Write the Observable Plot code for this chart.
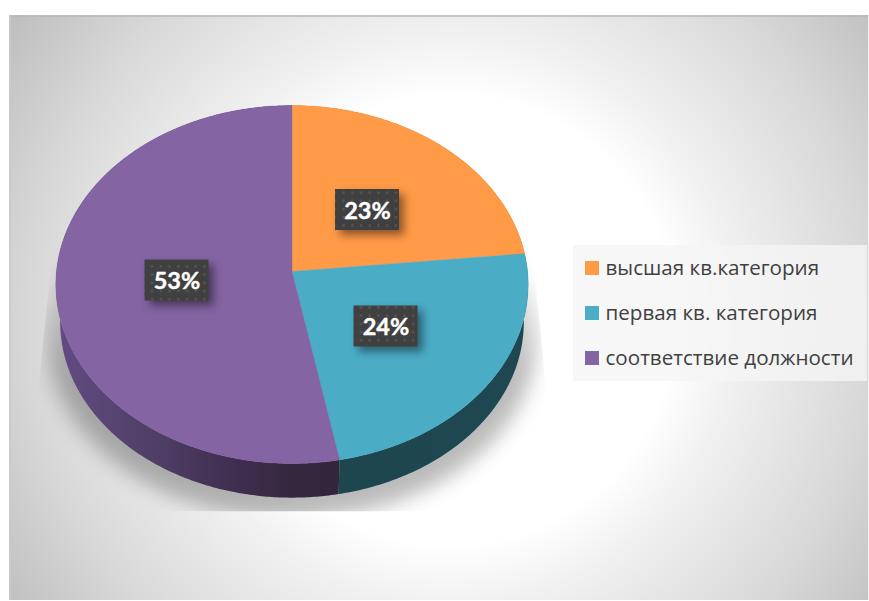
<!DOCTYPE html>
<html>
<head>
<meta charset="utf-8">
<script src="https://cdn.jsdelivr.net/npm/d3@7"></script>
<script src="https://cdn.jsdelivr.net/npm/@observablehq/plot@0.6"></script>
<style>
html,body{margin:0;padding:0;background:#fff;overflow:hidden}
svg{display:block}
g[aria-description="shadow"]{filter:blur(10px);clip-path:url(#shadowClip)}
g[aria-description="tag"]{filter:drop-shadow(5px 5px 4px rgba(0,0,0,.45))}
</style>
</head>
<body>
<div id="chart"></div>
<script>
const categories = ["высшая кв.категория", "первая кв. категория", "соответствие должности"];
const shares = [23.4, 23.6, 53];
const topColors = ["#ff9a47", "#4bacc6", "#8464a3"];
const wallColors = ["#a8652f", "url(#blueWall)", "url(#purpleWall)"];
const labelAnchors = [[367, 209.5], [385.5, 326], [176.5, 280]];

const W = 869, H = 601;
const k = 0.0726;
const top3d = {cx: 291.5, cy: 271, a: 235.5, b: 178.05};
const bot3d = {cx: 291.5, cy: 309, a: 231.2, b: 174.5};
const project = (g, t) => {
  const u = Math.sin(t), v = Math.cos(t), w = 1 + k * v;
  return {x: g.cx + g.a * u / w, y: g.cy - g.b * v / w};
};
const arcPts = (g, a, b) => {
  const n = Math.max(2, Math.ceil((b - a) / 0.01));
  return d3.range(n + 1).map(i => project(g, a + (b - a) * i / n));
};
const total = d3.sum(shares);
let acc = 0;
const slices = shares.map((s, i) => {
  const a = acc / total * 2 * Math.PI;
  acc += s;
  return {a, b: acc / total * 2 * Math.PI, i};
});

const xy = {x: "x", y: "y"};
const marks = [];

// panel
marks.push(Plot.rect([{x1: 9, x2: W - 1, y1: 15, y2: H - 1}], {x1: "x1", x2: "x2", y1: "y1", y2: "y2", fill: "url(#panel)"}));
marks.push(Plot.ruleY([15.5], {x1: 9, x2: W - 1, stroke: "#b9b9b9", strokeWidth: 1.5}));
marks.push(Plot.ruleX([9.5], {y1: 15, y2: H - 1, stroke: "#c9c9c9", strokeWidth: 1.5}));
marks.push(Plot.ruleX([W - 0.5], {y1: 15, y2: H - 1, stroke: "#e2e2e2", strokeWidth: 1}));

// defs
marks.push(() => {
  const defs = d3.create("svg:defs");
  const panel = defs.append("radialGradient").attr("id", "panel").attr("gradientUnits", "userSpaceOnUse")
    .attr("cx", 450).attr("cy", 320).attr("r", 560);
  [[0, "#fff"], [0.4, "#fff"], [0.507, "#f1f1f1"], [0.75, "#d8d8d8"], [1, "#b8b8b8"]].forEach(([o, c]) => panel.append("stop").attr("offset", o).attr("stop-color", c));
  const pw = defs.append("linearGradient").attr("id", "purpleWall").attr("gradientUnits", "userSpaceOnUse")
    .attr("x1", 58).attr("x2", 340).attr("y1", 0).attr("y2", 0);
  [[0, "#624b83"], [0.3, "#514069"], [0.65, "#3f2d4e"], [0.85, "#33263d"], [1, "#32263d"]].forEach(([o, c]) => pw.append("stop").attr("offset", o).attr("stop-color", c));
  const bw = defs.append("linearGradient").attr("id", "blueWall").attr("gradientUnits", "userSpaceOnUse")
    .attr("x1", 340).attr("x2", 528).attr("y1", 0).attr("y2", 0);
  [[0, "#1d464f"], [1, "#1e4751"]].forEach(([o, c]) => bw.append("stop").attr("offset", o).attr("stop-color", c));
  const sf = defs.append("linearGradient").attr("id", "shadowFill").attr("gradientUnits", "userSpaceOnUse")
    .attr("x1", 0).attr("x2", 0).attr("y1", 225).attr("y2", 370);
  sf.append("stop").attr("offset", 0).attr("stop-color", "#000").attr("stop-opacity", 0);
  sf.append("stop").attr("offset", 1).attr("stop-color", "#000").attr("stop-opacity", 0.27);
  const clip = defs.append("clipPath").attr("id", "shadowClip").attr("clipPathUnits", "userSpaceOnUse");
  clip.append("polygon").attr("points", "55,225 530,225 545,385 545,511 38,511 38,385");
  const dots = defs.append("pattern").attr("id", "dots").attr("patternUnits", "userSpaceOnUse")
    .attr("width", 8.7).attr("height", 8.2);
  dots.append("rect").attr("width", 8.7).attr("height", 8.2).attr("fill", "#404040");
  dots.append("circle").attr("cx", 4.3).attr("cy", 4.1).attr("r", 1.3).attr("fill", "#565656");
  return defs.node();
});

// shadow
const shadowGeo = {cx: 291.5, cy: 323, a: 244, b: 181};
marks.push(Plot.line(arcPts(shadowGeo, 0, 2 * Math.PI), {...xy, fill: "url(#shadowFill)", ariaDescription: "shadow"}));

// walls
slices.forEach(s => {
  const pts = [...arcPts(top3d, s.a, s.b), ...arcPts(bot3d, s.a, s.b).reverse()];
  marks.push(Plot.line(pts, {...xy, fill: wallColors[s.i]}));
});

// top faces
const apex = {x: top3d.cx, y: top3d.cy};
slices.forEach(s => {
  const pts = [apex, ...arcPts(top3d, s.a, s.b), apex];
  marks.push(Plot.line(pts, {...xy, fill: topColors[s.i], stroke: topColors[s.i], strokeWidth: 0.4}));
});

// data labels
const tags = shares.map((s, i) => ({cx: labelAnchors[i][0], cy: labelAnchors[i][1], text: `${Math.round(s)}%`}));
marks.push(Plot.rect(tags, {x1: d => d.cx - 32, x2: d => d.cx + 32, y1: d => d.cy - 20.5, y2: d => d.cy + 20.5, fill: "url(#dots)", ariaDescription: "tag"}));
marks.push(Plot.text(tags, {x: "cx", y: d => d.cy + 1, text: "text", fill: "#fff", stroke: "#fff", strokeWidth: 0.4, fontFamily: "Lato, 'Open Sans', sans-serif", fontWeight: 700, fontSize: 23.5}));

// legend
marks.push(Plot.rect([{x1: 573, x2: 867, y1: 245, y2: 381}], {x1: "x1", x2: "x2", y1: "y1", y2: "y2", fill: "#f5f5f5", fillOpacity: 0.8}));
const legendRows = categories.map((c, i) => ({c, i, yc: 268 + 45 * i}));
marks.push(Plot.rect(legendRows, {x1: () => 585, x2: () => 599, y1: d => d.yc - 7, y2: d => d.yc + 7, fill: d => topColors[d.i]}));
marks.push(Plot.text(legendRows, {x: () => 605, y: d => d.yc, text: "c", textAnchor: "start", fill: "#404040", fontFamily: "'Open Sans', 'Noto Sans', sans-serif", fontSize: 20.6}));

const plot = Plot.plot({
  width: W, height: H,
  margin: 0,
  x: {domain: [0, W], range: [0, W], axis: null},
  y: {domain: [0, H], range: [0, H], axis: null},
  color: {type: "identity"},
  marks
});
document.getElementById("chart").appendChild(plot);
</script>
</body>
</html>
